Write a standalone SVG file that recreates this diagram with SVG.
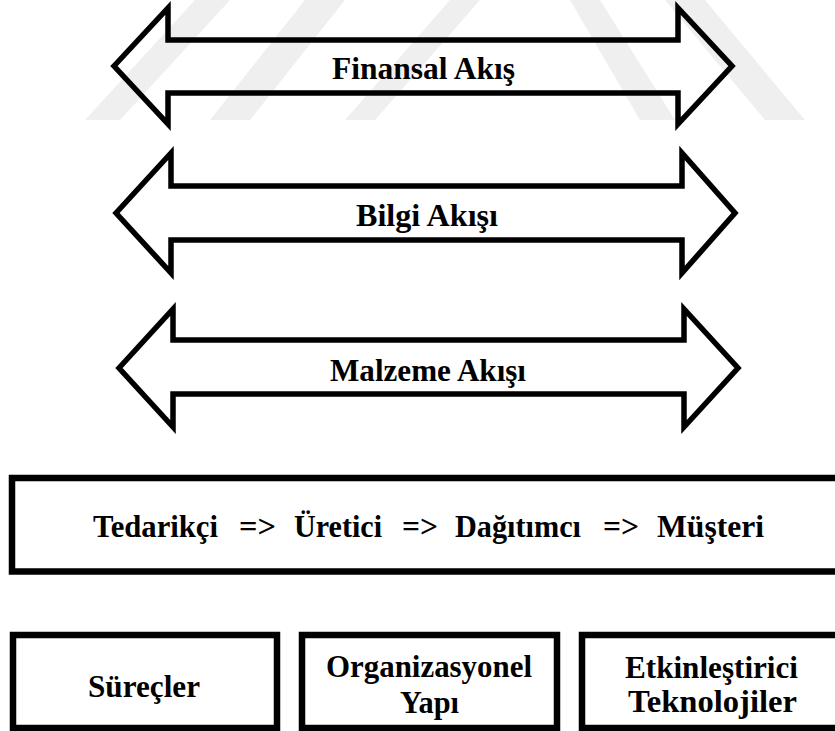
<svg xmlns="http://www.w3.org/2000/svg" width="835" height="731" viewBox="0 0 835 731">
  <style>
    .bg { fill: #ffffff; }
    .mark { fill: #efefef; }
    .flow { fill: none; stroke: #000; stroke-width: 5.5; stroke-linejoin: miter; stroke-miterlimit: 10; }
    .box { fill: none; stroke: #000; stroke-width: 6.5; }
    .lbl { font-family: "Liberation Serif", "Times New Roman", serif; font-weight: bold; font-size: 32px; fill: #000; }
  </style>
  <rect class="bg" x="0" y="0" width="835" height="731"/>

  <!-- faint striped emblem in the page background -->
  <g id="watermark">
    <polygon class="mark" points="195,0 230,0 120,120 85,120"/>
    <polygon class="mark" points="305,0 345,0 250,120 210,120"/>
    <polygon class="mark" points="450,0 480,0 375,120 345,120"/>
    <polygon class="mark" points="570,0 600,0 675,120 640,120"/>
    <polygon class="mark" points="665,0 705,0 805,120 765,120"/>
  </g>

  <!-- two-headed flow arrows -->
  <g id="connectors">
    <g id="flow-finansal">
      <polygon class="flow" points="114,66 168,8 168,40 678,40 678,8 732,66 678,124 678,93 168,93 168,124"/>
      <text class="lbl" x="332" y="79" textLength="183" lengthAdjust="spacingAndGlyphs">Finansal  Akış</text>
    </g>
    <g id="flow-bilgi">
      <polygon class="flow" points="116,213 171,153 171,186 682,186 682,153 735,213 682,273 682,240 171,240 171,273"/>
      <text class="lbl" x="356" y="226" textLength="142" lengthAdjust="spacingAndGlyphs">Bilgi Akışı</text>
    </g>
    <g id="flow-malzeme">
      <polygon class="flow" points="119,368 173,309 173,340 684,340 684,309 738,368 684,427 684,394 173,394 173,427"/>
      <text class="lbl" x="330" y="381" textLength="196" lengthAdjust="spacingAndGlyphs">Malzeme Akışı</text>
    </g>
  </g>

  <!-- supply chain line -->
  <g id="node-chain">
    <rect class="box" x="12" y="478" width="840" height="93.5"/>
    <text class="lbl" y="537">
      <tspan x="93" textLength="125" lengthAdjust="spacingAndGlyphs">Tedarikçi</tspan>
      <tspan x="239" textLength="37" lengthAdjust="spacingAndGlyphs">=&gt;</tspan>
      <tspan x="294" textLength="88" lengthAdjust="spacingAndGlyphs">Üretici</tspan>
      <tspan x="402" textLength="36" lengthAdjust="spacingAndGlyphs">=&gt;</tspan>
      <tspan x="455" textLength="126" lengthAdjust="spacingAndGlyphs">Dağıtımcı</tspan>
      <tspan x="603" textLength="36" lengthAdjust="spacingAndGlyphs">=&gt;</tspan>
      <tspan x="657" textLength="107" lengthAdjust="spacingAndGlyphs">Müşteri</tspan>
    </text>
  </g>

  <!-- supporting elements -->
  <g id="node-surecler">
    <rect class="box" x="13" y="635" width="264" height="93"/>
    <text class="lbl" x="88" y="697" textLength="112" lengthAdjust="spacingAndGlyphs">Süreçler</text>
  </g>
  <g id="node-organizasyon">
    <rect class="box" x="302" y="635" width="255" height="93"/>
    <text class="lbl" x="326" y="677" textLength="206" lengthAdjust="spacingAndGlyphs">Organizasyonel</text>
    <text class="lbl" x="400" y="713" textLength="59" lengthAdjust="spacingAndGlyphs">Yapı</text>
  </g>
  <g id="node-teknoloji">
    <rect class="box" x="582" y="635" width="270" height="93"/>
    <text class="lbl" x="625" y="678" textLength="173" lengthAdjust="spacingAndGlyphs">Etkinleştirici</text>
    <text class="lbl" x="628" y="712" textLength="169" lengthAdjust="spacingAndGlyphs">Teknolojiler</text>
  </g>
</svg>
